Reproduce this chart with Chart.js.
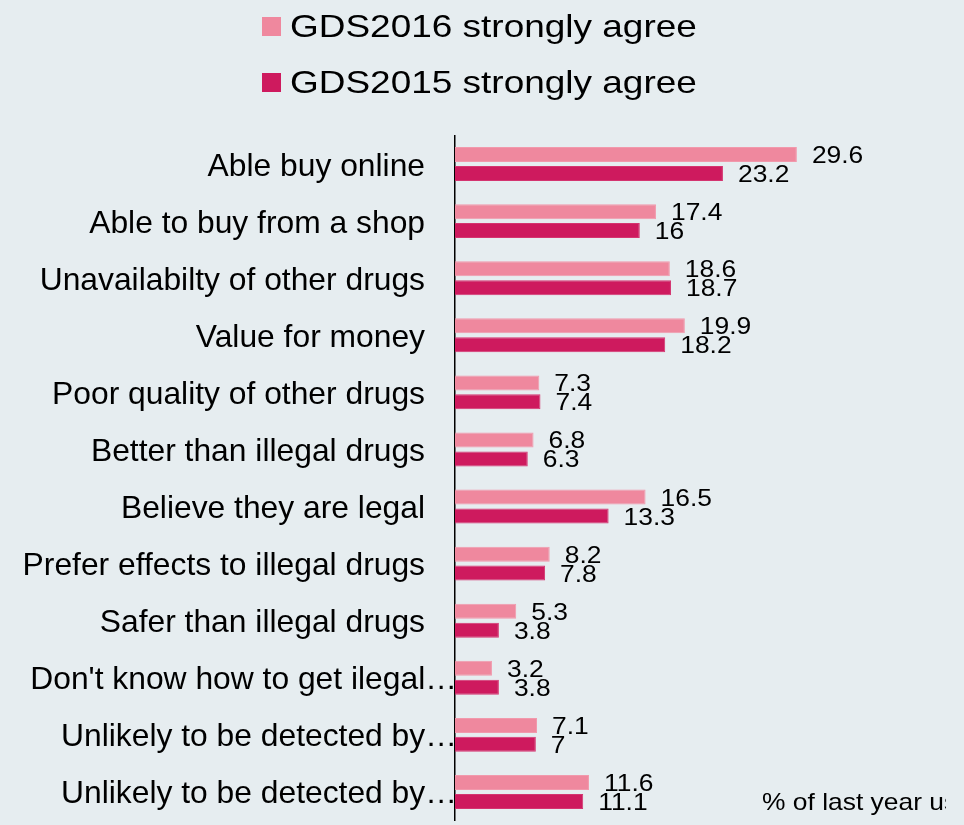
<!DOCTYPE html>
<html>
<head>
<meta charset="utf-8">
<script src="https://cdn.jsdelivr.net/npm/chart.js@4/dist/chart.umd.min.js"></script>
<style>
  html, body { margin: 0; padding: 0; background: #e6edf0; }
  #wrap { width: 964px; height: 825px; position: relative; }
</style>
</head>
<body>
<div id="wrap"><canvas id="Reasons"></canvas></div>
<script>
// survey answers, % strongly agree
const reasonLabels = [
    'Able buy online',
    'Able to buy from a shop',
    'Unavailabilty of other drugs',
    'Value for money',
    'Poor quality of other drugs',
    'Better than illegal drugs',
    'Believe they are legal',
    'Prefer effects to illegal drugs',
    'Safer than illegal drugs',
    'Don\'t know how to get ilegal…',
    'Unlikely to be detected by…',
    'Unlikely to be detected by…'
];
const gds2016 = [29.6, 17.4, 18.6, 19.9, 7.3, 6.8, 16.5, 8.2, 5.3, 3.2, 7.1, 11.6];
const gds2015 = [23.2, 16, 18.7, 18.2, 7.4, 6.3, 13.3, 7.8, 3.8, 3.8, 7, 11.1];
const seriesNames = ['GDS2016 strongly agree', 'GDS2015 strongly agree'];
const xTitle = '% of last year users';

const FONT = '"Liberation Sans", Arial, sans-serif';

// text drawn a little wider than the font, like the original export
function wideText(ctx, text, x, y, sx, align) {
    ctx.save();
    ctx.translate(x, y);
    ctx.scale(sx, 1);
    ctx.textAlign = align;
    ctx.fillText(text, 0, 0);
    ctx.restore();
}

const textPlugin = {
    id: 'textPlugin',
    afterDraw(chart) {
        const ctx = chart.ctx;
        const yScale = chart.scales.y;
        ctx.save();
        ctx.fillStyle = '#000';
        ctx.textBaseline = 'alphabetic';

        // legend, one entry per row
        ctx.font = '32px ' + FONT;
        chart.data.datasets.forEach((ds, i) => {
            const cy = 26 + i * 56;
            ctx.fillStyle = ds.backgroundColor;
            ctx.fillRect(262, cy - 9, 19, 19);
            ctx.fillStyle = '#000';
            wideText(ctx, ds.label, 290, cy + 11, 1.155, 'left');
        });

        // category labels
        ctx.font = '31.8px ' + FONT;
        chart.data.labels.forEach((lab, j) => {
            const y = yScale.getPixelForTick(j);
            const right = lab.endsWith('…') ? 457 : 425;
            wideText(ctx, lab, right, y + 11.5, 1, 'right');
        });

        // value labels at the bar ends
        ctx.font = '24px ' + FONT;
        chart.data.datasets.forEach((ds, i) => {
            const meta = chart.getDatasetMeta(i);
            meta.data.forEach((bar, j) => {
                wideText(ctx, String(ds.data[j]), bar.x + 15, bar.y + 8.5, 1.1, 'left');
            });
        });

        // axis title, cut off at the plot edge
        ctx.beginPath();
        ctx.rect(0, 0, 946, chart.height);
        ctx.clip();
        wideText(ctx, xTitle, 762, 810, 1.1, 'left');
        ctx.restore();
    }
};

const ctx = document.getElementById('Reasons').getContext('2d');
const ReasonsChart = new Chart(ctx, {
    type: 'bar',
    data: {
        labels: reasonLabels,
        datasets: [
            {
                label: seriesNames[0],
                data: gds2016,
                backgroundColor: '#ef889e',
                borderColor: '#f199ac',
                borderWidth: 1,
                categoryPercentage: 0.665,
                barPercentage: 0.79
            },
            {
                label: seriesNames[1],
                data: gds2015,
                backgroundColor: '#ce1a5e',
                borderColor: '#d43570',
                borderWidth: 1,
                categoryPercentage: 0.665,
                barPercentage: 0.79
            }
        ]
    },
    options: {
        indexAxis: 'y',
        responsive: true,
        maintainAspectRatio: false,
        animation: false,
        layout: {
            padding: {left: 0, right: 47, top: 135.5, bottom: 4.5}
        },
        plugins: {
            legend: {display: false},
            tooltip: {enabled: false}
        },
        scales: {
            x: {
                display: false,
                min: 0,
                max: 40
            },
            y: {
                ticks: {display: false},
                grid: {display: false},
                border: {display: true, color: '#000', width: 1.5},
                afterFit: (scale) => { scale.width = 455; }
            }
        }
    },
    plugins: [textPlugin]
});
</script>
</body>
</html>
